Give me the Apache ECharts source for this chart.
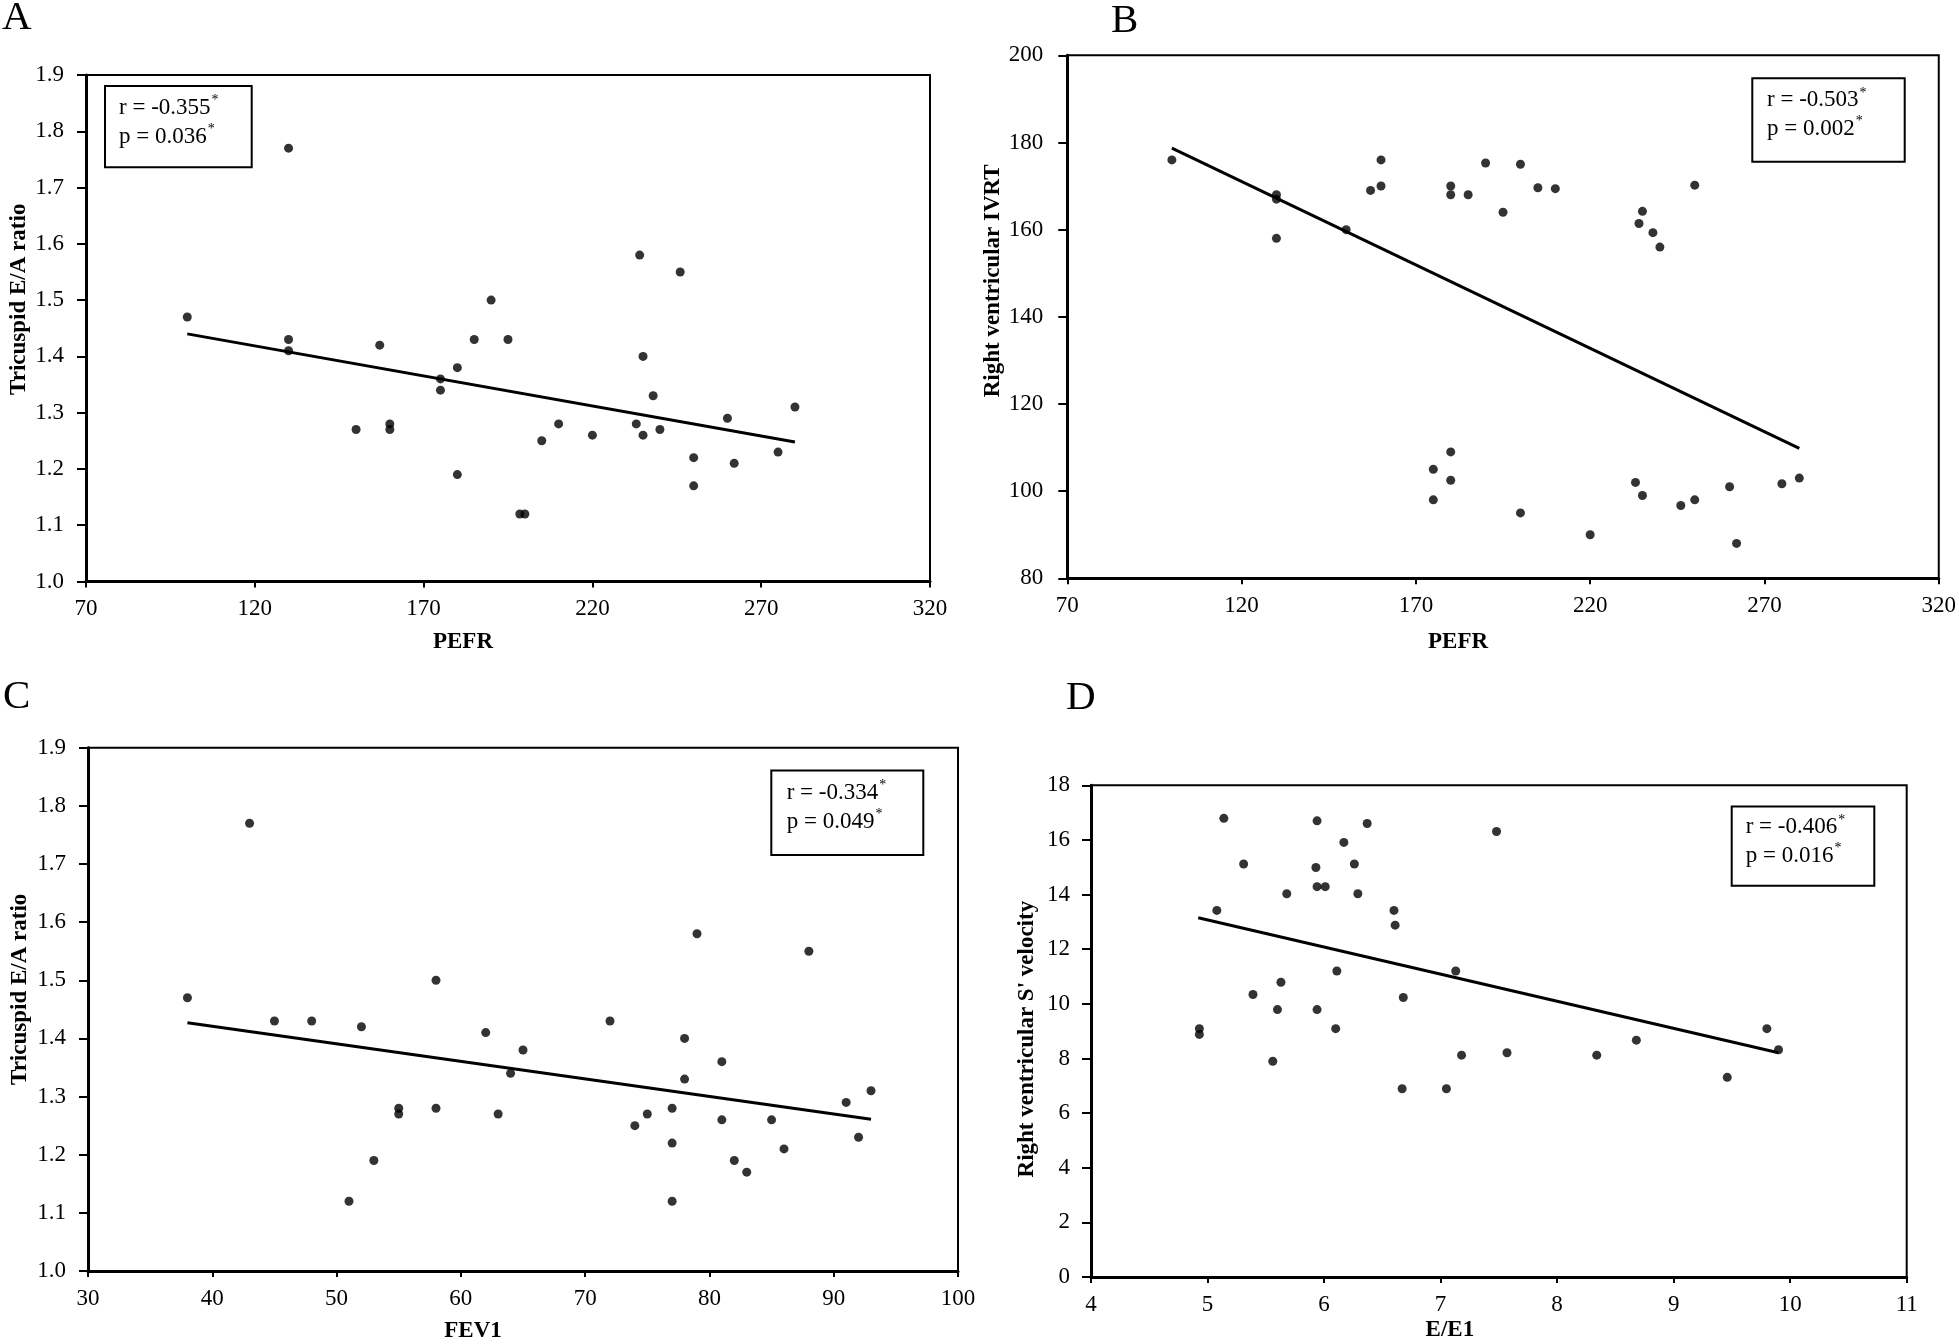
<!DOCTYPE html>
<html><head><meta charset="utf-8">
<script src="https://cdn.jsdelivr.net/npm/echarts@6/dist/echarts.min.js"></script>
<style>
html,body{margin:0;padding:0;background:#fff;overflow:hidden;}
#chart{width:1959px;height:1344px;}
</style></head><body><div id="chart"></div>
<script>
// Panel A: PEFR vs Tricuspid E/A ratio
const pefrA = [100,130,130,130,150,157,160,160,175,175,180,180,185,190,195,198.5,200,205,210,220,233,234,235,235,238,240,246,250,250,260,262,275,280];
const eaA   = [1.47,1.77,1.43,1.41,1.27,1.42,1.28,1.27,1.36,1.34,1.38,1.19,1.43,1.50,1.43,1.12,1.12,1.25,1.28,1.26,1.28,1.58,1.40,1.26,1.33,1.27,1.55,1.22,1.17,1.29,1.21,1.23,1.31];
const fitA  = [[100,1.44],[280,1.248]];
// Panel B: PEFR vs Right ventricular IVRT
const pefrB = [100,130,130,130,150,157,160,160,175,175,180,180,180,180,185,190,195,200,200,205,210,220,233,234,235,235,238,240,246,250,250,260,262,275,280];
const ivrtB = [176,168,167,158,160,169,170,176,105,98,170,168,109,102.5,168,175.3,164,175,95,169.6,169.4,90,102,161.4,164.2,99,159.3,156,96.7,170.2,98,101,88,101.7,103];
const fitB  = [[100,178.7],[280,109.8]];
// Panel C: FEV1 vs Tricuspid E/A ratio
const fev1C = [38,43,45,48,51,52,53,55,55,58,58,62,63,64,65,72,74,75,77,77,77,78,78,79,81,81,82,83,85,86,88,91,92,93];
const eaC   = [1.47,1.77,1.43,1.43,1.12,1.42,1.19,1.28,1.27,1.50,1.28,1.41,1.27,1.34,1.38,1.43,1.25,1.27,1.28,1.22,1.12,1.40,1.33,1.58,1.36,1.26,1.19,1.17,1.26,1.21,1.55,1.29,1.23,1.31];
const fitC  = [[38,1.427],[93,1.261]];
// Panel D: E/E1 vs Right ventricular S' velocity
const eeD = [4.93,4.93,5.08,5.14,5.31,5.39,5.56,5.60,5.63,5.68,5.93,5.94,5.94,6.01,5.94,6.10,6.11,6.17,6.26,6.29,6.37,6.60,6.61,6.67,6.68,7.05,7.13,7.18,7.48,7.57,8.34,8.68,9.46,9.80,9.90];
const sD  = [9.09,8.88,13.42,16.79,15.12,10.34,7.90,9.79,10.79,14.03,14.99,16.70,14.29,14.29,9.79,9.09,11.20,15.91,15.12,14.03,16.60,13.42,12.88,6.89,10.23,6.89,11.20,8.12,16.31,8.21,8.12,8.67,7.31,9.09,8.32];
const fitD = [[4.92,13.15],[9.90,8.21]];

const panelLetters = ['A','B','C','D'];
const xNames = ['PEFR','PEFR','FEV1','E/E1'];
const yNames = ['Tricuspid E/A ratio','Right ventricular IVRT','Tricuspid E/A ratio',"Right ventricular S' velocity"];
const statsR = ['r = -0.355','r = -0.503','r = -0.334','r = -0.406'];
const statsP = ['p = 0.036','p = 0.002','p = 0.049','p = 0.016'];
const xTicks = [[70,320,50],[70,320,50],[30,100,10],[4,11,1]];
const yTicks = [[1.0,1.9,0.1],[80,200,20],[1.0,1.9,0.1],[0,18,2]];
const yDecimals = [1,0,1,0];

const FONT = '"Liberation Serif","Times New Roman",serif';
const grids = [
  {left:86, top:75, width:844, height:506.5},
  {left:1067.3, top:55.3, width:871.7, height:523},
  {left:88, top:747.7, width:870, height:526.3},
  {left:1091, top:785.3, width:815.7, height:491.7}
];
const xNameLayout = [{gap:49,padR:90},{gap:52,padR:90},{gap:49,padR:100},{gap:42,padR:98}];
const yNameLayout = [{gap:55,padL:58,padR:0},{gap:56,padL:72,padR:0},{gap:56,padL:40,padR:0},{gap:52,padL:0,padR:16}];
const yLabelMargin = [22,24,22,21];
const boxes = [
  {x:105,y:86,w:146.7,h:81.3,tx:119,ty:93.7},
  {x:1752.3,y:78.2,w:152.4,h:83.5,tx:1767,ty:86},
  {x:771.3,y:770.5,w:152,h:84.5,tx:786.7,ty:778.7},
  {x:1731.7,y:806.4,w:142.6,h:79.4,tx:1745.7,ty:813}
];
const letterPos = [{left:2,top:-2},{left:1111,top:1},{left:3,top:677},{left:1066,top:678}];

const xs = [pefrA,pefrB,fev1C,eeD], ys = [eaA,ivrtB,eaC,sD], fits = [fitA,fitB,fitC,fitD];

const option = {
  backgroundColor:'#fff',
  animation:false,
  title: panelLetters.map((t,i)=>({text:t,left:letterPos[i].left,top:letterPos[i].top,padding:0,
    textStyle:{fontFamily:FONT,fontSize:41,fontWeight:'normal',color:'#000'}})),
  grid: grids.map(g=>Object.assign({show:true,borderColor:'#000',borderWidth:2,backgroundColor:'transparent',containLabel:false},g)),
  xAxis: grids.map((g,i)=>({
    gridIndex:i,type:'value',min:xTicks[i][0],max:xTicks[i][1],interval:xTicks[i][2],
    name:xNames[i],nameLocation:'middle',nameGap:xNameLayout[i].gap,
    nameTextStyle:{fontFamily:FONT,fontSize:23,fontWeight:'bold',color:'#000',padding:[0,xNameLayout[i].padR,0,0]},
    axisLine:{show:true,onZero:false,lineStyle:{color:'#000',width:3}},
    axisTick:{show:true,length:6,lineStyle:{color:'#000',width:2}},
    axisLabel:{fontFamily:FONT,fontSize:23,color:'#000',margin:16},
    splitLine:{show:false}
  })),
  yAxis: grids.map((g,i)=>({
    gridIndex:i,type:'value',min:yTicks[i][0],max:yTicks[i][1],interval:yTicks[i][2],
    name:yNames[i],nameLocation:'middle',nameGap:yNameLayout[i].gap,
    nameTextStyle:{fontFamily:FONT,fontSize:23,fontWeight:'bold',color:'#000',padding:[0,yNameLayout[i].padR,0,yNameLayout[i].padL]},
    axisLine:{show:true,onZero:false,lineStyle:{color:'#000',width:3}},
    axisTick:{show:true,length:9,lineStyle:{color:'#000',width:2}},
    axisLabel:{fontFamily:FONT,fontSize:23,color:'#000',margin:yLabelMargin[i],formatter:v=>Number(v).toFixed(yDecimals[i])},
    splitLine:{show:false}
  })),
  series: [].concat(
    xs.map((xv,i)=>({type:'scatter',xAxisIndex:i,yAxisIndex:i,symbol:'circle',symbolSize:9,
      itemStyle:{color:'#000'},data:xv.map((v,k)=>[v,ys[i][k]]),z:3})),
    fits.map((f,i)=>({type:'line',xAxisIndex:i,yAxisIndex:i,symbol:'none',
      lineStyle:{color:'#000',width:3},data:f,z:2}))
  ),
  graphic: [].concat(
    boxes.map(b=>({type:'rect',shape:{x:b.x,y:b.y,width:b.w,height:b.h},
      style:{fill:'#fff',stroke:'#000',lineWidth:2},z:10})),
    boxes.map((b,i)=>({type:'text',x:b.tx,y:b.ty,z:11,
      style:{text:'{a|'+statsR[i]+'}{s|*}\n{a|'+statsP[i]+'}{s|*}',
        rich:{a:{fontFamily:FONT,fontSize:23,lineHeight:28.6,fill:'#000'},
              s:{fontFamily:FONT,fontSize:14,lineHeight:28.6,verticalAlign:'top',fill:'#000',padding:[0,0,0,1]}},
        fill:'#000'}}))
  )
};
const chart = echarts.init(document.getElementById('chart'));
chart.setOption(option);
</script></body></html>
